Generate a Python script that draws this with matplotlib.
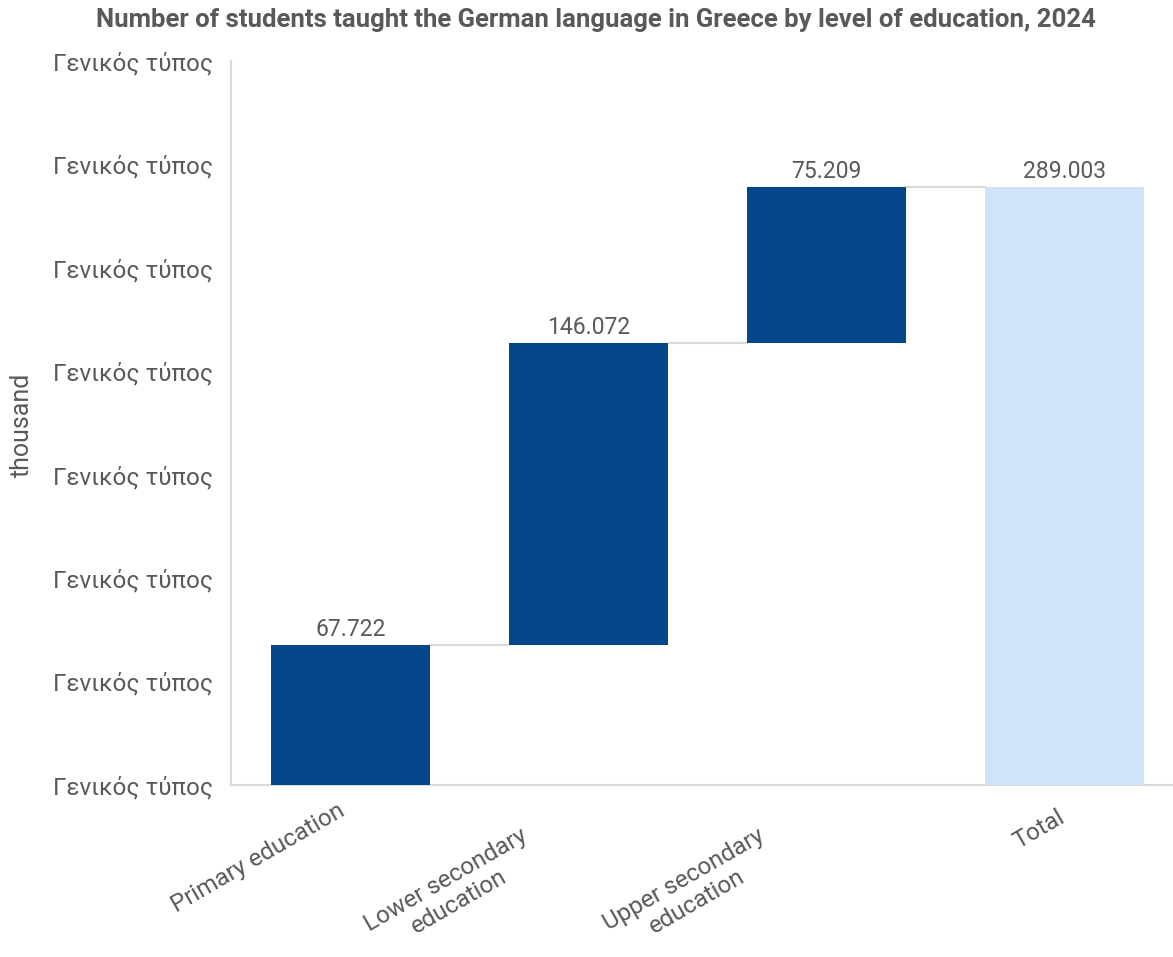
import numpy as np
import matplotlib.pyplot as plt

plt.rcParams['font.family'] = ['Roboto', 'DejaVu Sans']

# 德语学生人数（千人）
categories = ['Primary education', 'Lower secondary\neducation',
              'Upper secondary\neducation', 'Total']
values = [67.722, 146.072, 75.209]
total = 289.003
ytick_vals = [0, 50, 100, 150, 200, 250, 300, 350]
ytick_text = ['Γενικός τύπος'] * len(ytick_vals)

grey = '#595959'
dark = '#05478A'
light = '#CFE4FB'
line_c = '#D9D9D9'

fig = plt.figure(figsize=(11.73, 9.57), dpi=100)
ax = fig.add_axes([231 / 1173, 1 - 785 / 957, 942 / 1173, (785 - 61) / 957])

x = np.arange(len(categories))
w = 0.667
bottoms = np.concatenate([[0], np.cumsum(values)[:-1]])
tops = bottoms + np.array(values)

ax.bar(x[:3], values, bottom=bottoms, width=w, color=dark, zorder=3)
ax.bar(x[3], total, width=w, color=light, zorder=3)

# 连接线
for i in range(3):
    ax.plot([x[i] + w / 2, x[i + 1] - w / 2], [tops[i], tops[i]],
            color=line_c, lw=1.5, zorder=2)

# 数值标签
labels = ['{:.3f}'.format(v) for v in values] + ['{:.3f}'.format(total)]
label_y = list(tops) + [total]
for i in range(4):
    ax.annotate(labels[i], xy=(x[i], label_y[i]), xytext=(0, 3),
                textcoords='offset points', ha='center', va='bottom',
                fontsize=16.5, color=grey)

ax.set_xlim(-0.502, 3.455)
ax.set_ylim(0, 350)
ax.set_yticks(ytick_vals)
ax.set_yticklabels(ytick_text, fontsize=17.5, color=grey)
ax.tick_params(axis='y', length=0, pad=13)
ax.set_xticks([])

for s in ['top', 'right']:
    ax.spines[s].set_visible(False)
ax.spines['left'].set_color(line_c)
ax.spines['bottom'].set_color(line_c)
ax.spines['left'].set_linewidth(1.5)
ax.spines['bottom'].set_linewidth(1.5)

# 倾斜的类别标签
offsets = [(-92, -73), (-136, -106), (-136, -106), (-26, -45)]
for i, lab in enumerate(categories):
    ax.annotate(lab, xy=(x[i], 0), xycoords=('data', 'data'),
                xytext=offsets[i], textcoords='offset pixels',
                ha='center', va='center', rotation=30,
                multialignment='center', linespacing=1.15,
                fontsize=17.5, color=grey, annotation_clip=False)

fig.text(22 / 1173, 1 - 425 / 957, 'thousand', rotation=90, ha='center',
         va='center', fontsize=18, color=grey)
fig.text(596 / 1173, 1 - 20 / 957,
         'Number of students taught the German language in Greece by level of education, 2024',
         ha='center', va='center', fontsize=18.5, fontweight='bold', color=grey)

fig.savefig('out.png', dpi=100)
